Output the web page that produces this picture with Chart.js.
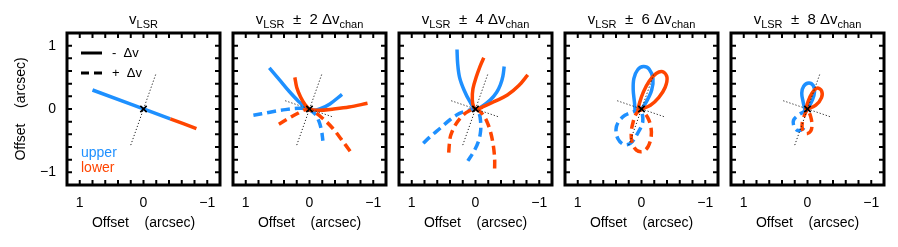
<!DOCTYPE html>
<html>
<head>
<meta charset="utf-8">
<script src="https://cdn.jsdelivr.net/npm/chart.js@4.4.0/dist/chart.umd.min.js"></script>
<style>
body{margin:0;background:#fff;width:898px;height:247px;position:relative;overflow:hidden;font-family:"Liberation Sans",Arial,sans-serif}
canvas{position:absolute;top:0}
.ttl{position:absolute;top:10px;width:180px;text-align:center;font-size:15px;color:#000;white-space:pre;line-height:18px}
.ttl sub{font-size:11px;vertical-align:-4px;line-height:0}
</style>
</head>
<body>
<script>
// channel offsets shown above each panel
var chanSteps = ['', '2', '4', '6', '8']
var tickLabels = [1, 0, -1]
var minorTicks = [-1, -0.8, -0.6, -0.4, -0.2, 0, 0.2, 0.4, 0.6, 0.8, 1]

// dotted reference axes and the centre
var majorAxis = [[0.2, -0.57], [-0.2, 0.57]]
var minorAxis = [[0.38, 0.13], [-0.38, -0.13]]
var centre = [[0, 0]]

// panel 1 : v_LSR
var upper0 = [[0.8, 0.3], [-0.42, -0.155]]
var lower0 = [[-0.42, -0.155], [-0.83, -0.31]]

// panel 2 : +-2 chan  (Minus = solid, Plus = dashed)
var upperMinus2 = [[0.63, 0.65], [0.47, 0.46], [0.32, 0.28], [0.17, 0.12], [0.05, 0.02], [-0.06, -0.02], [-0.18, 0.01], [-0.32, 0.08], [-0.51, 0.23]]
var lowerMinus2 = [[0.23, 0.5], [0.2, 0.34], [0.14, 0.19], [0.07, 0.07], [0, 0], [-0.15, -0.02], [-0.38, 0], [-0.62, 0.03], [-0.91, 0.09]]
var upperPlus2 = [[0.88, -0.1], [0.62, -0.05], [0.38, -0.01], [0.18, 0.01], [0.04, 0], [-0.08, -0.07], [-0.15, -0.2], [-0.19, -0.35], [-0.21, -0.5]]
var lowerPlus2 = [[0.48, -0.24], [0.33, -0.15], [0.19, -0.07], [0.06, -0.01], [-0.08, -0.05], [-0.22, -0.16], [-0.36, -0.3], [-0.5, -0.48], [-0.64, -0.67]]

// panel 3 : +-4 chan
var upperMinus4 = [[0.29, 0.94], [0.28, 0.72], [0.25, 0.5], [0.18, 0.3], [0.09, 0.12], [0, 0], [-0.1, 0.04], [-0.23, 0.14], [-0.33, 0.26], [-0.39, 0.38], [-0.43, 0.52], [-0.45, 0.67]]
var lowerMinus4 = [[-0.13, 0.81], [-0.07, 0.67], [-0.01, 0.5], [0.04, 0.32], [0.05, 0.15], [0.03, 0.04], [-0.02, 0], [-0.13, 0.04], [-0.3, 0.12], [-0.5, 0.22], [-0.68, 0.37], [-0.82, 0.54]]
var upperPlus4 = [[0.82, -0.54], [0.68, -0.41], [0.55, -0.3], [0.4, -0.17], [0.25, -0.07], [0.1, -0.02], [0, 0], [-0.06, -0.08], [-0.08, -0.2], [-0.08, -0.35], [-0.05, -0.5], [0.02, -0.66], [0.12, -0.82]]
var lowerPlus4 = [[0.42, -0.69], [0.41, -0.55], [0.39, -0.42], [0.32, -0.26], [0.2, -0.1], [0.08, -0.02], [0, 0], [-0.1, -0.07], [-0.18, -0.2], [-0.24, -0.38], [-0.28, -0.58], [-0.3, -0.78], [-0.3, -0.97]]

// panel 4 : +-6 chan
var upperMinus6 = [[0.1, -0.04], [0.11, 0.1], [0.13, 0.3], [0.12, 0.48], [0.06, 0.62], [-0.03, 0.67], [-0.12, 0.63], [-0.18, 0.48], [-0.16, 0.3], [-0.08, 0.12], [0, 0]]
var lowerMinus6 = [[0.06, -0.03], [0.03, 0.1], [-0.03, 0.27], [-0.12, 0.44], [-0.23, 0.56], [-0.33, 0.59], [-0.4, 0.5], [-0.37, 0.34], [-0.27, 0.18], [-0.14, 0.06], [0, 0]]
var upperPlus6 = [[0, 0], [0.12, -0.04], [0.26, -0.1], [0.36, -0.2], [0.4, -0.32], [0.37, -0.47], [0.28, -0.56], [0.17, -0.54], [0.07, -0.4], [-0.02, -0.2], [0, 0]]
var lowerPlus6 = [[0, 0], [0.08, -0.07], [0.13, -0.2], [0.16, -0.36], [0.15, -0.52], [0.08, -0.65], [-0.02, -0.67], [-0.1, -0.6], [-0.15, -0.45], [-0.15, -0.3], [-0.1, -0.14], [0, 0]]

// panel 5 : +-8 chan
var upperMinus8 = [[0.04, -0.02], [0.07, 0.12], [0.09, 0.25], [0.06, 0.36], [-0.02, 0.41], [-0.09, 0.37], [-0.11, 0.27], [-0.08, 0.15], [-0.03, 0.05], [0, 0]]
var lowerMinus8 = [[0.03, -0.02], [-0.01, 0.12], [-0.07, 0.25], [-0.15, 0.33], [-0.22, 0.29], [-0.22, 0.18], [-0.13, 0.06], [0, 0]]
var upperPlus8 = [[0, 0], [0.07, -0.05], [0.15, -0.1], [0.22, -0.18], [0.21, -0.28], [0.15, -0.34], [0.07, -0.31], [0.04, -0.24]]
var lowerPlus8 = [[0, 0], [0.04, -0.08], [0.08, -0.2], [0.08, -0.32], [0.02, -0.39], [-0.05, -0.35], [-0.07, -0.25], [-0.05, -0.12], [0, 0]]

var BLUE = '#1E90FF'
var RED = '#FF4500'
var FONT = '"Liberation Sans", Arial, sans-serif'
var boxLeft = [67, 233, 399, 565, 731]
var boxW = 153

function fmt(v) { return v < 0 ? '\u2212' + Math.abs(v) : String(v) }

function curve(pts, color, dashed) {
  return {
    data: pts.map(function (p) { return {x: p[0], y: p[1]} }),
    showLine: true, borderColor: color, borderWidth: 3.5,
    borderDash: dashed ? [9, 5] : [], borderCapStyle: 'butt',
    pointRadius: 0, tension: 0.35, fill: false
  }
}
function dotted(pts) {
  return {
    data: pts.map(function (p) { return {x: p[0], y: p[1]} }),
    showLine: true, borderColor: '#222', borderWidth: 1, borderDash: [1.2, 2],
    pointRadius: 0, tension: 0
  }
}
function marker() {
  return {
    data: centre.map(function (p) { return {x: p[0], y: p[1]} }),
    showLine: false, pointStyle: 'crossRot', pointRadius: 4.5,
    pointBorderColor: '#000', pointBorderWidth: 1.6
  }
}

var framePlugin = {
  id: 'frame',
  afterDraw: function (chart) {
    var a = chart.chartArea, ctx = chart.ctx
    var xs = chart.scales.x, ys = chart.scales.y
    ctx.save()
    ctx.strokeStyle = '#000'
    ctx.lineWidth = 2
    minorTicks.forEach(function (v) {
      var px = xs.getPixelForValue(v), py = ys.getPixelForValue(v)
      ctx.beginPath()
      ctx.moveTo(px, a.bottom); ctx.lineTo(px, a.bottom - 5)
      ctx.moveTo(px, a.top); ctx.lineTo(px, a.top + 5)
      ctx.moveTo(a.left, py); ctx.lineTo(a.left + 5, py)
      ctx.moveTo(a.right, py); ctx.lineTo(a.right - 5, py)
      ctx.stroke()
    })
    ctx.lineWidth = 3
    ctx.strokeRect(a.left, a.top, a.right - a.left, a.bottom - a.top)
    ctx.restore()
  }
}

var legendPlugin = {
  id: 'keys',
  afterDraw: function (chart) {
    var a = chart.chartArea, ctx = chart.ctx
    ctx.save()
    ctx.strokeStyle = '#000'
    ctx.lineWidth = 3
    ctx.beginPath(); ctx.moveTo(a.left + 14, a.top + 20); ctx.lineTo(a.left + 35, a.top + 20); ctx.stroke()
    ctx.setLineDash([8, 5])
    ctx.beginPath(); ctx.moveTo(a.left + 14, a.top + 40); ctx.lineTo(a.left + 35, a.top + 40); ctx.stroke()
    ctx.setLineDash([])
    ctx.fillStyle = '#000'
    ctx.font = '13px ' + FONT
    ctx.textBaseline = 'middle'
    ctx.fillText('-  \u0394v', a.left + 45, a.top + 20)
    ctx.fillText('+  \u0394v', a.left + 45, a.top + 40)
    ctx.font = '14px ' + FONT
    ctx.fillStyle = BLUE
    ctx.fillText('upper', a.left + 14, a.top + 120)
    ctx.fillStyle = RED
    ctx.fillText('lower', a.left + 14, a.top + 135)
    ctx.restore()
  }
}

var panelSets = [
  [upper0, lower0, null, null],
  [upperMinus2, lowerMinus2, upperPlus2, lowerPlus2],
  [upperMinus4, lowerMinus4, upperPlus4, lowerPlus4],
  [upperMinus6, lowerMinus6, upperPlus6, lowerPlus6],
  [upperMinus8, lowerMinus8, upperPlus8, lowerPlus8]
]

panelSets.forEach(function (s, k) {
  var first = k === 0
  var canvas = document.createElement('canvas')
  var left = first ? 0 : boxLeft[k] - 10
  var width = first ? boxLeft[0] + boxW + 10 : boxW + 20
  canvas.width = width
  canvas.height = 247
  canvas.style.left = left + 'px'
  document.body.appendChild(canvas)

  var ttl = document.createElement('div')
  ttl.className = 'ttl'
  ttl.style.left = (boxLeft[k] + boxW / 2 - 90) + 'px'
  ttl.innerHTML = first ? 'v<sub>LSR</sub>' : 'v<sub>LSR</sub>  \u00b1  ' + chanSteps[k] + ' \u0394v<sub>chan</sub>'
  document.body.appendChild(ttl)

  // index 0 is drawn on top
  var ds = [marker(), dotted(majorAxis)]
  if (!first) ds.push(dotted(minorAxis))
  ds.push(curve(s[1], RED, false))
  if (s[3]) ds.push(curve(s[3], RED, true))
  ds.push(curve(s[0], BLUE, false))
  if (s[2]) ds.push(curve(s[2], BLUE, true))

  var tickFont = {family: FONT, size: 14}
  new Chart(canvas.getContext('2d'), {
    type: 'scatter',
    data: {datasets: ds},
    options: {
      responsive: false,
      animation: false,
      devicePixelRatio: 1,
      events: [],
      layout: {padding: {left: first ? 0 : 10, right: 10, top: 33, bottom: 0}},
      plugins: {legend: {display: false}, tooltip: {enabled: false}},
      scales: {
        x: {
          type: 'linear', min: -1.2, max: 1.2, reverse: true,
          grid: {display: false, drawTicks: false}, border: {display: false},
          ticks: {stepSize: 1, includeBounds: false, autoSkip: false, maxRotation: 0, padding: 10, color: '#000', font: tickFont, callback: fmt},
          title: {display: true, text: 'Offset    (arcsec)', color: '#000', font: tickFont, padding: {top: 0, bottom: 15}},
          afterFit: function (sc) { sc.height = 62; sc.paddingLeft = 0; sc.paddingRight = 0 }
        },
        y: {
          type: 'linear', min: -1.2, max: 1.2, display: first,
          grid: {display: false, drawTicks: false}, border: {display: false},
          ticks: {stepSize: 1, includeBounds: false, autoSkip: false, padding: 11, color: '#000', font: tickFont, callback: fmt},
          title: {display: true, text: 'Offset    (arcsec)', color: '#000', font: tickFont, padding: {top: 13, bottom: 0}},
          afterFit: function (sc) { if (first) sc.width = boxLeft[0]; sc.paddingTop = 0; sc.paddingBottom = 0 }
        }
      }
    },
    plugins: first ? [framePlugin, legendPlugin] : [framePlugin]
  })
})
</script>
</body>
</html>
